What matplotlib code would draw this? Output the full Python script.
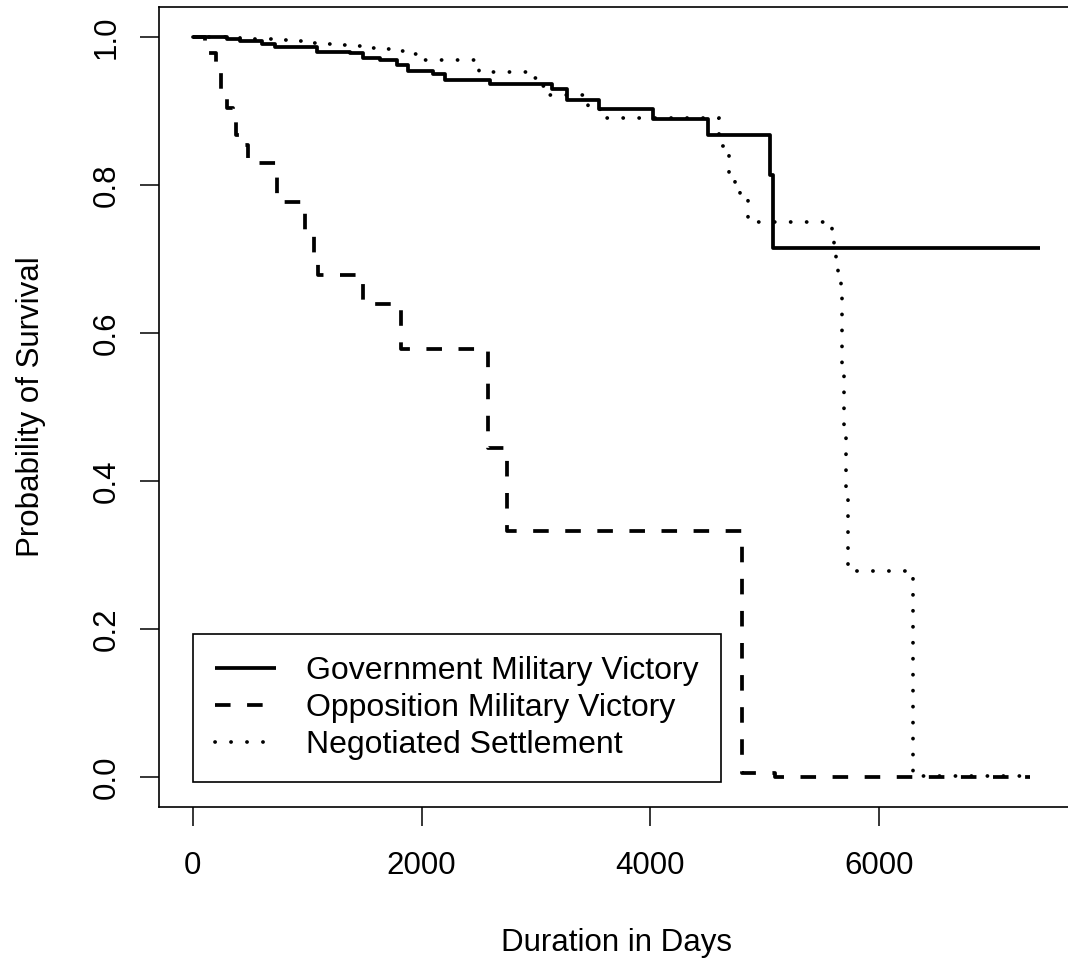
import matplotlib
matplotlib.use('Agg')
import matplotlib.pyplot as plt
from matplotlib.lines import Line2D

# ---- data ----
gov_days = [0, 297, 413, 605, 719, 1086, 1374, 1487, 1636, 1784, 1880, 2098,
            2203, 2596, 3138, 3269, 3548, 4020, 4500, 5042, 5068]
gov_surv = [1.0, 0.997, 0.994, 0.990, 0.987, 0.980, 0.978, 0.972, 0.969, 0.962,
            0.954, 0.950, 0.942, 0.937, 0.930, 0.915, 0.902, 0.889, 0.867, 0.814, 0.715]
gov_end = 7406

opp_days = [0, 107, 203, 248, 300, 352, 378, 413, 483, 736, 981, 1059, 1094,
            1492, 1817, 2579, 2748, 4803, 5086]
opp_surv = [1.0, 0.978, 0.956, 0.926, 0.904, 0.891, 0.868, 0.854, 0.829, 0.777,
            0.738, 0.702, 0.678, 0.639, 0.578, 0.444, 0.333, 0.006, 0.0]
opp_end = 7321

neg_days = [0, 413, 701, 824, 955, 1085, 1225, 1356, 1479, 1618, 1741, 1854, 1959,
            2500, 2911, 3007, 3103, 3453, 3557, 4598, 4685, 4738, 4782, 4851,
            5583, 5601, 5621, 5641, 5662, 5677, 5692, 5707, 5723, 5740, 6292]
neg_surv = [1.0, 0.997, 0.996, 0.994, 0.992, 0.990, 0.989, 0.988, 0.985, 0.984,
            0.981, 0.977, 0.969, 0.953, 0.945, 0.933, 0.922, 0.906, 0.891, 0.852,
            0.806, 0.792, 0.781, 0.750, 0.740, 0.719, 0.698, 0.676, 0.655, 0.560,
            0.465, 0.375, 0.285, 0.279, 0.002]
neg_end = 7321

series_labels = ["Government Military Victory", "Opposition Military Victory",
                 "Negotiated Settlement"]
x_ticks = [0, 2000, 4000, 6000]
y_ticks = [0.0, 0.2, 0.4, 0.6, 0.8, 1.0]
y_ticklabels = ["0.0", "0.2", "0.4", "0.6", "0.8", "1.0"]

# ---- style ----
plt.rcParams['font.family'] = ['Liberation Sans', 'DejaVu Sans']
plt.rcParams['lines.scale_dashes'] = False
FS = 22.5
LEG_FS = 23
LW = 2.7

fig = plt.figure(figsize=(10.68, 9.65), dpi=100)
W, H = 1068.0, 965.0
left, right, top, bottom = 158.8, 1074.1, 7.3, 806.7
ax = fig.add_axes([left / W, (H - bottom) / H, (right - left) / W, (bottom - top) / H])

dash_style = (0, (11.2, 11.9))
dot_style = (0, (0.1, 11.4))


def ext(d, s, end):
    return list(d) + [end], list(s) + [s[-1]]


x, y = ext(gov_days, gov_surv, gov_end)
ax.plot(x, y, drawstyle='steps-post', color='black', lw=LW, solid_capstyle='butt')
x, y = ext(opp_days, opp_surv, opp_end)
ax.plot(x, y, drawstyle='steps-post', color='black', lw=LW, linestyle=dash_style,
        dash_capstyle='butt')
x, y = ext(neg_days, neg_surv, neg_end)
ax.plot(x, y, drawstyle='steps-post', color='black', lw=LW, linestyle=dot_style,
        dash_capstyle='round')

ax.set_xlim(-296, 7702)
ax.set_ylim(-0.04, 1.04)

ax.set_xticks(x_ticks)
ax.set_xticklabels([str(v) for v in x_ticks], fontsize=FS)
ax.set_yticks(y_ticks)
ax.set_yticklabels(y_ticklabels, fontsize=FS, rotation=90, va='center', ha='right')
ax.tick_params(axis='both', length=13.7, width=1.1, color='black')
ax.tick_params(axis='x', pad=18.5)
ax.tick_params(axis='y', pad=13.0)
for sp in ax.spines.values():
    sp.set_linewidth(1.2)

ax.set_xlabel("Duration in Days", fontsize=FS, va='center')
ax.xaxis.set_label_coords(0.5, -0.1699)
ax.set_ylabel("Probability of Survival", fontsize=FS, va='center')
ax.yaxis.set_label_coords(-0.1400, 0.5)

handles = [Line2D([], [], color='black', lw=LW, solid_capstyle='butt'),
           Line2D([], [], color='black', lw=LW, linestyle=dash_style, dash_capstyle='butt'),
           Line2D([], [], color='black', lw=LW, linestyle=dot_style, dash_capstyle='round')]
leg = ax.legend(handles, series_labels, loc='lower left',
                bbox_to_anchor=(0.0370, 0.0305), borderaxespad=0, frameon=True,
                fancybox=False, edgecolor='black', framealpha=1, fontsize=LEG_FS,
                handlelength=1.9, handletextpad=0.95, borderpad=0.7,
                labelspacing=0.22)
leg.get_frame().set_linewidth(1.2)

fig.savefig("out.png", dpi=100)
